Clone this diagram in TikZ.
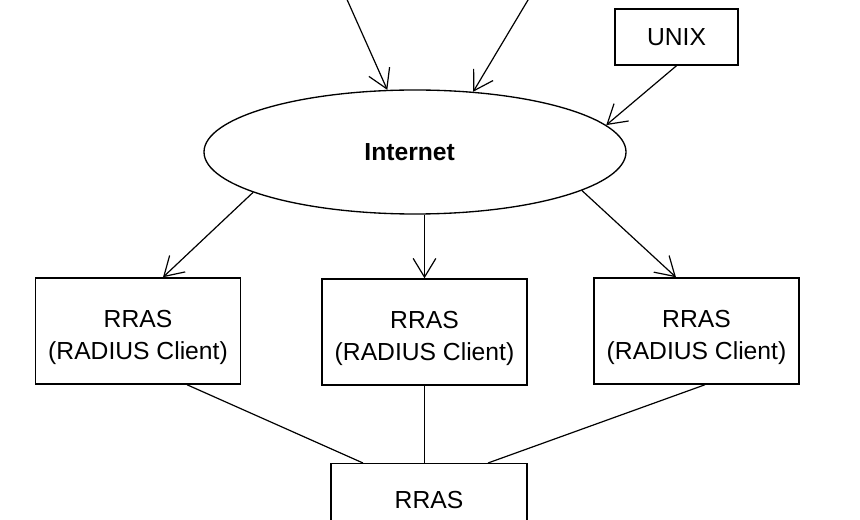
\documentclass[tikz,border=0pt]{standalone}
\usepackage{fontspec}
\setmainfont{Liberation Sans}
\usetikzlibrary{shapes.geometric,arrows.meta}
\begin{document}
\begin{tikzpicture}[x=0.75pt,y=-0.75pt,
  every node/.style={font=\fontsize{18.5}{24}\selectfont, inner sep=0pt},
  box/.style={draw, line width=1.1pt, rectangle, minimum width=154pt, minimum height=79.5pt, align=center},
  smallbox/.style={draw, line width=1.1pt, rectangle, minimum width=92pt, minimum height=42pt},
  cloud/.style={draw, ellipse, line width=1pt, minimum width=316.5pt, minimum height=93pt},
  arr/.style={-{Straight Barb[length=14pt,width=17pt,line width=0.9pt]}, line width=0.9pt},
  link/.style={line width=0.9pt}
]
\useasboundingbox (0,0) rectangle (860,520);
\clip (0,0) rectangle (860,520);

\node[cloud] (inet) at (415,152) {\hspace*{-8pt}\bfseries Internet};
\node[smallbox] (unix) at (676.5,37) {UNIX};
\node[box] (l) at (138,331) {\rule{0pt}{22pt}RRAS\\(RADIUS Client)};
\node[box] (m) at (424.5,332) {\rule{0pt}{22pt}RRAS\\(RADIUS Client)};
\node[box] (r) at (696.5,331) {\rule{0pt}{22pt}RRAS\\(RADIUS Client)};
\node[box, anchor=north, minimum width=147pt, text depth=26pt] (b) at (429,463) {RRAS};

\coordinate (c1) at (345,-5);
\coordinate (c2) at (531,-5);

\draw[arr] (c1) -- (inet);
\draw[arr] (c2) -- (inet.46);
\draw[arr] (unix.south) -- (inet.8.1);
\draw[arr] (inet.194.8) -- ([xshift=18.75pt]l.north);
\draw[arr] (m.north |- inet.south) -- (m.north);
\draw[arr] (inet.347.8) -- ([xshift=-15.4pt]r.north);

\draw[link] ([xshift=36.75pt]l.south) -- ([xshift=-49.5pt]b.north);
\draw[link] (m.south) -- (m.south |- b.north);
\draw[link] ([xshift=6.4pt]r.south) -- ([xshift=44.25pt]b.north);
\end{tikzpicture}
\end{document}
